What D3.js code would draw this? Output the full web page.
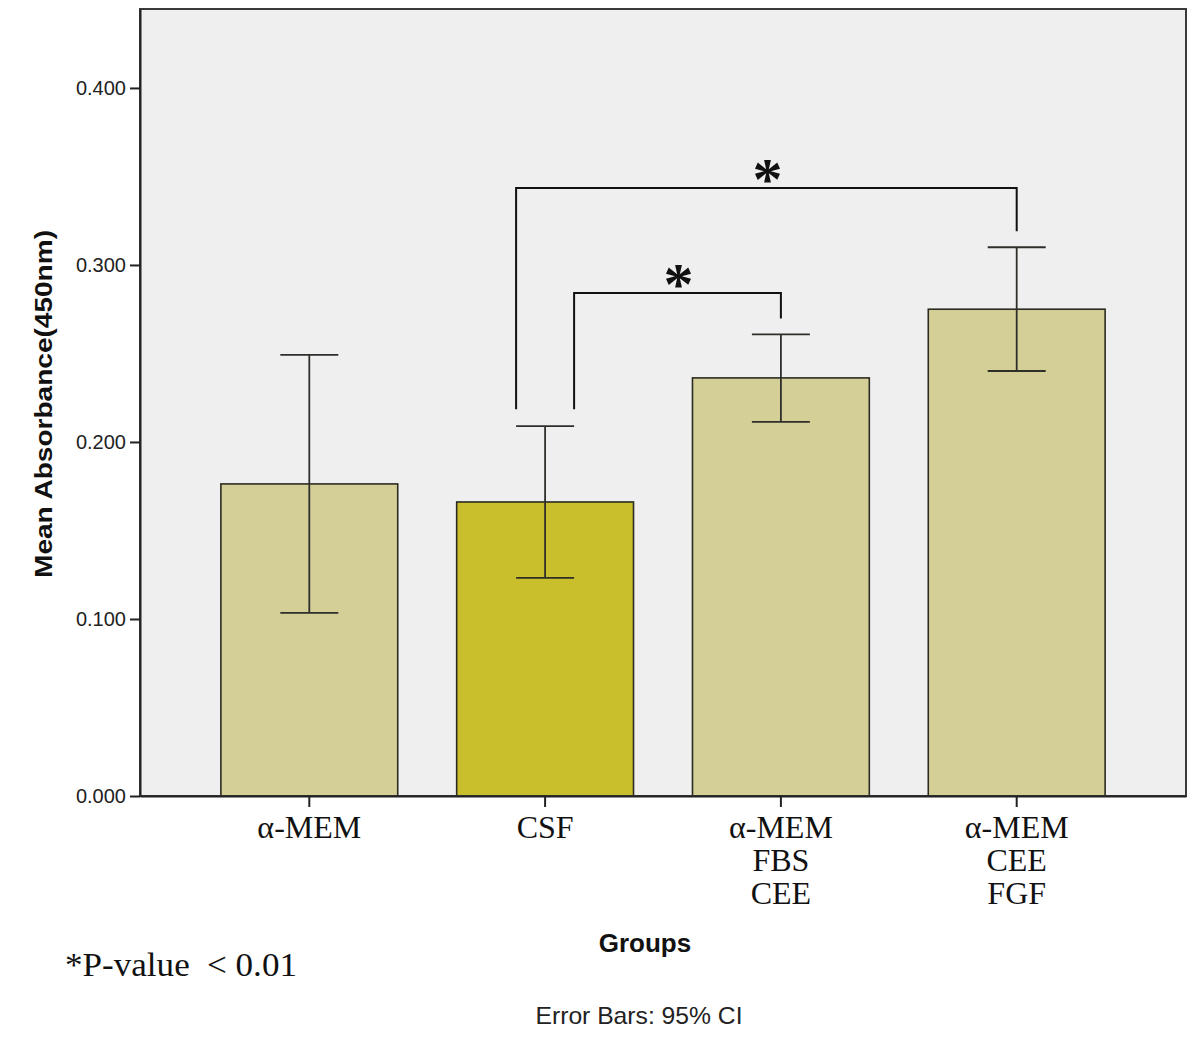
<!DOCTYPE html>
<html><head><meta charset="utf-8">
<script src="https://cdn.jsdelivr.net/npm/d3@7"></script>
<style>
html,body{margin:0;padding:0;background:#fff;}
svg{display:block;}
</style></head>
<body>
<svg id="chart" width="1200" height="1053"></svg>
<script>
// ---- data ----
const categories = ["α-MEM", "CSF", "α-MEM FBS CEE", "α-MEM CEE FGF"];
const categoryLines = [["α-MEM"], ["CSF"], ["α-MEM", "FBS", "CEE"], ["α-MEM", "CEE", "FGF"]];
const means = [0.1763, 0.1661, 0.2362, 0.2750];
const ciLow = [0.1034, 0.1232, 0.2114, 0.2401];
const ciHigh = [0.2492, 0.2090, 0.2608, 0.3100];
const highlighted = [false, true, false, false];
const yTicks = [0, 0.1, 0.2, 0.3, 0.4];
// significance comparisons (indices into categories, bracket level in data units)
const compFrom = [1, 1];
const compTo = [2, 3];
const compLevel = [0.2842, 0.3435];
const compLabel = ["*", "*"];

// ---- layout ----
const svg = d3.select("#chart");
const L = 140, R = 1186, T = 9, B = 796;

const x = d3.scaleBand().domain(categories).range([L, R]).paddingInner(0.25).paddingOuter(0.343);
const y = d3.scaleLinear().domain([0, 0.4446]).range([B, T]);

// plot background
svg.append("rect").attr("x", L).attr("y", T).attr("width", R - L).attr("height", B - T)
  .attr("fill", "#efefef");

// bars
svg.selectAll("rect.bar").data(categories).enter().append("rect")
  .attr("class", "bar")
  .attr("x", d => x(d))
  .attr("y", (d, i) => y(means[i]))
  .attr("width", x.bandwidth())
  .attr("height", (d, i) => y(0) - y(means[i]))
  .attr("fill", (d, i) => highlighted[i] ? "#c9bf2d" : "#d4cf97")
  .attr("stroke", "#2b2b22").attr("stroke-width", 1.6);

// error bars
const capW = 58;
const eg = svg.append("g").attr("stroke", "#2e2e2a").attr("stroke-width", 1.8).attr("fill", "none");
categories.forEach((c, i) => {
  const cx = x(c) + x.bandwidth() / 2;
  eg.append("line").attr("x1", cx).attr("x2", cx).attr("y1", y(ciLow[i])).attr("y2", y(ciHigh[i]));
  eg.append("line").attr("x1", cx - capW / 2).attr("x2", cx + capW / 2).attr("y1", y(ciHigh[i])).attr("y2", y(ciHigh[i]));
  eg.append("line").attr("x1", cx - capW / 2).attr("x2", cx + capW / 2).attr("y1", y(ciLow[i])).attr("y2", y(ciLow[i]));
});

// frame
svg.append("rect").attr("x", L).attr("y", T).attr("width", R - L).attr("height", B - T)
  .attr("fill", "none").attr("stroke", "#3a3a3a").attr("stroke-width", 2);

// y axis
const yAxis = svg.append("g").attr("transform", `translate(${L},0)`)
  .call(d3.axisLeft(y).tickValues(yTicks).tickFormat(d3.format(".3f")).tickSize(10).tickSizeOuter(0).tickPadding(4));
yAxis.select(".domain").attr("stroke", "#222").attr("stroke-width", 2);
yAxis.selectAll(".tick line").attr("stroke", "#222").attr("stroke-width", 2);
yAxis.selectAll(".tick text").attr("font-family", "Liberation Sans, Arial, sans-serif")
  .attr("font-size", 20).attr("fill", "#222");

// x axis
const xAxis = svg.append("g").attr("transform", `translate(0,${B})`)
  .call(d3.axisBottom(x).tickSize(11).tickSizeOuter(0).tickFormat(""));
xAxis.select(".domain").attr("stroke", "#222").attr("stroke-width", 2);
xAxis.selectAll(".tick line").attr("stroke", "#222").attr("stroke-width", 2);
xAxis.selectAll(".tick").each(function (d, i) {
  const t = d3.select(this).append("text")
    .attr("font-family", "Liberation Serif, Times New Roman, serif")
    .attr("font-size", 32).attr("fill", "#111").attr("text-anchor", "middle")
    .attr("y", 42);
  categoryLines[i].forEach((ln, j) => {
    t.append("tspan").attr("x", 0).attr("dy", j === 0 ? 0 : 33).text(ln);
  });
});

// significance brackets
const bg = svg.append("g").attr("stroke", "#111").attr("stroke-width", 2).attr("fill", "none");
compFrom.forEach((a, k) => {
  const b = compTo[k];
  const ca = x(categories[a]) + x.bandwidth() / 2;
  const cb = x(categories[b]) + x.bandwidth() / 2;
  // left leg sits on the cap edge of the left bar (outer bracket uses left edge, inner uses right edge)
  const xa = k === 0 ? ca + capW / 2 : ca - capW / 2;
  const yl = y(compLevel[k]);
  const ya = y(ciHigh[a] + 0.0095);
  const yb = y(ciHigh[b] + 0.009);
  bg.append("path").attr("d", `M${xa},${ya}V${yl}H${cb}V${yb}`);
  svg.append("text").attr("x", (xa + cb) / 2 + 1).attr("y", yl + 11)
    .attr("text-anchor", "middle")
    .attr("font-family", "Liberation Serif, Times New Roman, serif")
    .attr("font-weight", "bold")
    .attr("font-size", 60).attr("fill", "#111").text(compLabel[k]);
});

// axis titles and notes
svg.append("text").attr("transform", `translate(52,${(228 + 580) / 2}) rotate(-90)`)
  .attr("text-anchor", "middle").attr("font-family", "Liberation Sans, Arial, sans-serif")
  .attr("font-weight", "bold").attr("font-size", 24).attr("fill", "#111")
  .attr("textLength", 348).attr("lengthAdjust", "spacingAndGlyphs")
  .text("Mean Absorbance(450nm)");

svg.append("text").attr("x", 645).attr("y", 952).attr("text-anchor", "middle")
  .attr("font-family", "Liberation Sans, Arial, sans-serif").attr("font-weight", "bold")
  .attr("font-size", 26).attr("fill", "#111").text("Groups");

const pv = svg.append("text").attr("x", 65).attr("y", 976)
  .attr("font-family", "Liberation Serif, Times New Roman, serif").attr("font-size", 33).attr("fill", "#111")
  .attr("textLength", 232).attr("lengthAdjust", "spacingAndGlyphs");
pv.append("tspan").text("*P-value ");
pv.append("tspan").attr("dx", 8).text("< 0.01");

svg.append("text").attr("x", 639).attr("y", 1024).attr("text-anchor", "middle")
  .attr("font-family", "Liberation Sans, Arial, sans-serif")
  .attr("font-size", 24).attr("fill", "#222")
  .attr("textLength", 207).attr("lengthAdjust", "spacingAndGlyphs")
  .text("Error Bars: 95% CI");
</script>
</body></html>
